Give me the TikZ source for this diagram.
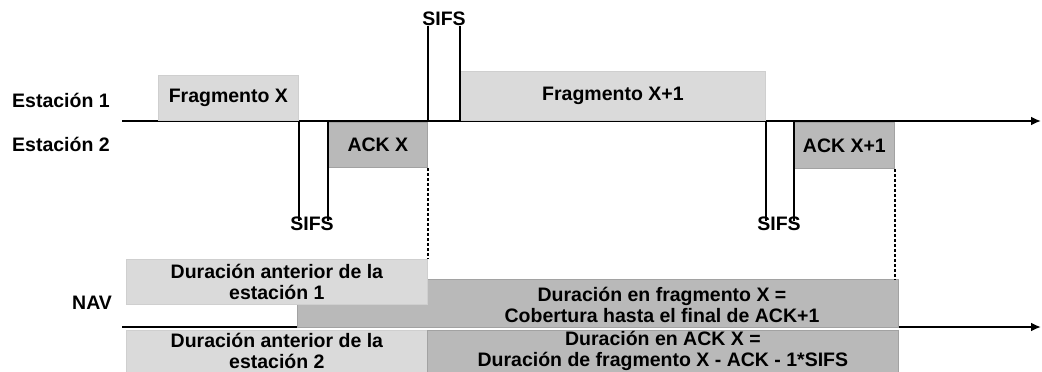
\documentclass[tikz,border=0pt]{standalone}
\usepackage{fontspec}
\setmainfont{Liberation Sans}
\usetikzlibrary{arrows.meta,positioning}

\definecolor{lightfill}{HTML}{DADADA}
\definecolor{lightedge}{HTML}{CFCFCF}
\definecolor{darkfill}{HTML}{B9B9B9}
\definecolor{darkedge}{HTML}{A2A2A2}

\tikzset{
    lbl/.style={font=\bfseries\fontsize{19.5}{21}\selectfont, inner sep=0pt},
    lightbox/.style={lbl, fill=lightfill, draw=lightedge, line width=0.8pt, anchor=north west},
    darkbox/.style={lbl, fill=darkfill, draw=darkedge, line width=0.8pt, anchor=north west},
    timeline/.style={line width=2pt, -{Latex[length=10pt,width=9pt]}},
    sifsline/.style={line width=1.8pt},
    navline/.style={line width=1.4pt, dashed, dash pattern=on 3pt off 2pt}
}

\begin{document}
\begin{tikzpicture}[x=1pt,y=-1pt]

    \useasboundingbox (0,0) rectangle (1042,372);
    \clip (0,0) rectangle (1042,372);

    % Ejes de tiempo
    \draw[timeline] (122,121) -- (1041,121);
    \draw[timeline] (122,327) -- (1041,327);

    % Etiquetas de las estaciones
    \node[lbl, anchor=west] (est1) at (12,100) {Estación 1};
    \node[lbl, anchor=west] (est2) at (12,144) {Estación 2};
    \node[lbl, anchor=west] (nav) at (72,303) {NAV};

    % Tramas en el medio
    \node[lightbox, minimum width=140pt, minimum height=45pt] (fragx) at (158,75) {Fragmento X};
    \node[darkbox, minimum width=99pt, minimum height=45pt] (ackx) at (328,122) {ACK X};
    \node[lightbox, minimum width=305pt, minimum height=49pt] (fragy) at (460,71) {Fragmento X+1};
    \node[darkbox, minimum width=100pt, minimum height=46pt] (acky) at (794,122) {ACK X+1};

    % Intervalos SIFS
    \node[lbl] (sifstop) at (444,19) {SIFS};
    \node[lbl] (sifsa) at (312,224) {SIFS};
    \node[lbl] (sifsb) at (779,224) {SIFS};

    \draw[sifsline] (ackx.north east) -- (ackx.north east |- sifstop.south);
    \draw[sifsline] (fragy.south west) -- (fragy.south west |- sifstop.south);
    \draw[sifsline] (fragx.south east) -- ([yshift=-4pt]fragx.south east |- sifsa.north);
    \draw[sifsline] (ackx.north west) -- ([yshift=-4pt]ackx.north west |- sifsa.north);
    \draw[sifsline] (fragy.south east) -- ([yshift=-4pt]fragy.south east |- sifsb.north);
    \draw[sifsline] (acky.north west) -- ([yshift=-4pt]acky.north west |- sifsb.north);

    % Vectores NAV
    \node[darkbox, minimum width=601pt, minimum height=48pt] (navfrag) at (297,279) {};
    \node[lightbox, minimum width=301pt, minimum height=45pt, align=center] (nav1) at (126,259)
        {Duración anterior de la\\estación 1};
    \node[lbl, align=center] (navfragtxt) at (662,305)
        {Duración en fragmento X =\\Cobertura hasta el final de ACK+1};
    \node[lightbox, minimum width=301pt, minimum height=42pt, align=center] (nav2) at (126,330)
        {Duración anterior de la\\estación 2};
    \node[darkbox, minimum width=471pt, minimum height=42pt, align=center] (navack) at (427,330)
        {Duración en ACK X =\\Duración de fragmento X - ACK - 1*SIFS};

    % Lineas guia
    \draw[navline] (ackx.south east) -- (nav1.north east);
    \draw[navline] (acky.south east) -- (acky.south east |- navfrag.north);

\end{tikzpicture}
\end{document}
